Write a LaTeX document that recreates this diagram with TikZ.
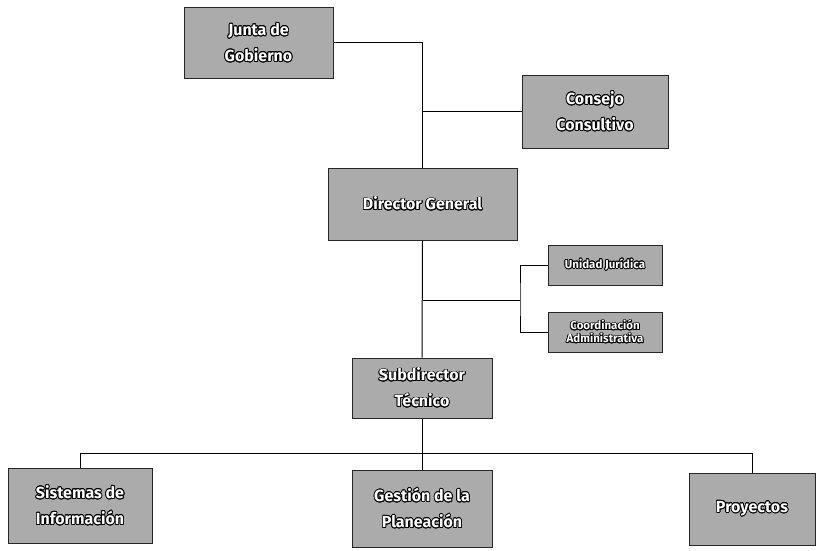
\documentclass[tikz,border=0pt]{standalone}
\usepackage{fontspec}
\setmainfont{Fira Sans}
\usepackage{contour}
\contourlength{0.8pt}
\contournumber{16}
\begin{document}
\begin{tikzpicture}[x=1pt,y=-1pt,
  box/.style={draw=black!85,line width=1pt,fill=black!33,inner sep=2pt,
    align=center,font=\fontsize{16}{26}\selectfont\bfseries,text=white},
  smallbox/.style={box,font=\fontsize{11.5}{13}\selectfont\bfseries},
  conn/.style={draw=black,line width=1pt}]
\useasboundingbox[fill=white] (0,0) rectangle (824,551);
\node[box,minimum width=149pt,minimum height=70pt] (junta) at (258.5,43) {\contour{black}{Junta de}\\\contour{black}{Gobierno}};
\node[box,minimum width=146pt,minimum height=73pt] (consejo) at (595,111.5) {\contour{black}{Consejo}\\\contour{black}{Consultivo}};
\node[box,minimum width=189pt,minimum height=72pt] (director) at (422.5,204) {\contour{black}{Director General}};
\node[smallbox,minimum width=114pt,minimum height=40pt] (juridica) at (605,265) {\contour{black}{Unidad Jurídica}};
\node[smallbox,minimum width=114pt,minimum height=40pt] (coord) at (605,332) {\contour{black}{Coordinación}\\\contour{black}{Administrativa}};
\node[box,minimum width=140pt,minimum height=60pt] (sub) at (422,388) {\contour{black}{Subdirector}\\\contour{black}{Técnico}};
\node[box,minimum width=144pt,minimum height=75pt] (sistemas) at (80,505.5) {\contour{black}{Sistemas de}\\\contour{black}{Información}};
\node[box,minimum width=140pt,minimum height=77pt] (gestion) at (422,508.5) {\contour{black}{Gestión de la}\\\contour{black}{Planeación}};
\node[box,minimum width=126pt,minimum height=72pt] (proyectos) at (752,509) {\contour{black}{Proyectos}};
\coordinate (bx) at (520,300);
\coordinate (hy) at (0,453);
\draw[conn] (junta.east) -| (director.north);
\draw[conn] (consejo.west) -- (director.north |- consejo.west);
\draw[conn] (director.south) -- (sub.north);
\draw[conn] (director.south |- bx) -- (bx);
\draw[conn] (juridica.west) -| (bx) |- (coord.west);
\draw[conn] (sub.south) -- (gestion.north);
\draw[conn] (sistemas.north) |- (proyectos.north |- hy) -- (proyectos.north);
\end{tikzpicture}
\end{document}
